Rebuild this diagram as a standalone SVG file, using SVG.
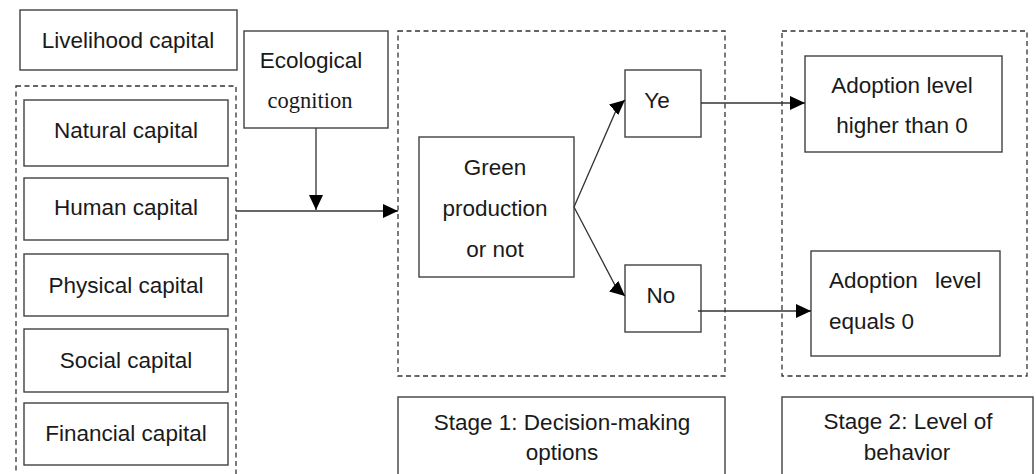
<svg xmlns="http://www.w3.org/2000/svg" width="1036" height="474" viewBox="0 0 1036 474">
<style>
.box{fill:#fff;stroke:#404040;stroke-width:1.4}
.dash{fill:none;stroke:#333;stroke-width:1.3;stroke-dasharray:5,3.5}
.t{font-family:"Liberation Sans",Arial,sans-serif;font-size:22.5px;fill:#1a1a1a;text-anchor:middle}
.s{font-family:"Liberation Serif","Times New Roman",serif;font-size:22.5px;fill:#1a1a1a;text-anchor:middle}
.l{text-anchor:start}
.c{fill:none;stroke:#333;stroke-width:1.3}
</style>
<defs>
<marker id="ah" markerUnits="userSpaceOnUse" markerWidth="16" markerHeight="14" refX="15" refY="7" orient="auto" viewBox="0 0 16 14">
<path d="M0,0 L15,7 L0,14 z" fill="#000"/>
</marker>
</defs>
<rect width="1036" height="474" fill="#fff"/>
<g id="containers">
<rect id="capital-group" class="dash" x="16" y="86" width="220" height="410"/>
<rect id="stage1-group" class="dash" x="398" y="31" width="327" height="345"/>
<rect id="stage2-group" class="dash" x="782" y="31" width="245" height="345"/>
</g>
<g id="livelihood"><rect class="box" x="20" y="10" width="217" height="60"/><text class="t" x="128" y="48">Livelihood capital</text></g>
<g id="natural"><rect class="box" x="24" y="100" width="204" height="66"/><text class="t" x="126" y="138">Natural capital</text></g>
<g id="human"><rect class="box" x="24" y="178" width="204" height="62"/><text class="t" x="126" y="215">Human capital</text></g>
<g id="physical"><rect class="box" x="24" y="254" width="204" height="62"/><text class="t" x="126" y="293">Physical capital</text></g>
<g id="social"><rect class="box" x="24" y="329" width="204" height="63"/><text class="t" x="126" y="368">Social capital</text></g>
<g id="financial"><rect class="box" x="24" y="403" width="204" height="62"/><text class="t" x="126" y="441">Financial capital</text></g>
<g id="ecological"><rect class="box" x="244" y="31" width="144" height="97"/><text class="t" x="311" y="68">Ecological</text><text class="s" x="310" y="108">cognition</text></g>
<g id="green"><rect class="box" x="419" y="137" width="155" height="140"/><text class="t" x="495" y="175">Green</text><text class="t" x="495" y="216">production</text><text class="t" x="495" y="257">or not</text></g>
<g id="yes"><rect class="box" x="625" y="70" width="76" height="67"/><text class="t" x="657" y="108">Ye</text></g>
<g id="no"><rect class="box" x="625" y="265" width="76" height="67"/><text class="t" x="661" y="303">No</text></g>
<g id="higher"><rect class="box" x="805" y="56" width="197" height="96"/><text class="t" x="902" y="93">Adoption level</text><text class="t" x="902" y="133">higher than 0</text></g>
<g id="equals"><rect class="box" x="811" y="251" width="189" height="105"/><text class="t l" x="829" y="288">Adoption <tspan x="935">level</tspan></text><text class="t l" x="829" y="329">equals 0</text></g>
<g id="stage1"><rect class="box" x="398" y="397" width="327" height="100"/><text class="t" x="562" y="430">Stage 1: Decision-making</text><text class="t" x="562" y="460">options</text></g>
<g id="stage2"><rect class="box" x="782" y="397" width="251" height="100"/><text class="t" x="908" y="429">Stage 2: Level of</text><text class="t" x="907" y="460">behavior</text></g>
<g id="connectors">
<line class="c" x1="316" y1="128" x2="316" y2="210" marker-end="url(#ah)"/>
<line class="c" x1="236" y1="211" x2="398" y2="211" marker-end="url(#ah)"/>
<path class="c" d="M574,207 L618,106 L625,100" marker-end="url(#ah)"/>
<path class="c" d="M574,207 L617,289 L625,296" marker-end="url(#ah)"/>
<line class="c" x1="701" y1="103" x2="805" y2="103" marker-end="url(#ah)"/>
<line class="c" x1="698" y1="311" x2="811" y2="311" marker-end="url(#ah)"/>
</g>
</svg>
